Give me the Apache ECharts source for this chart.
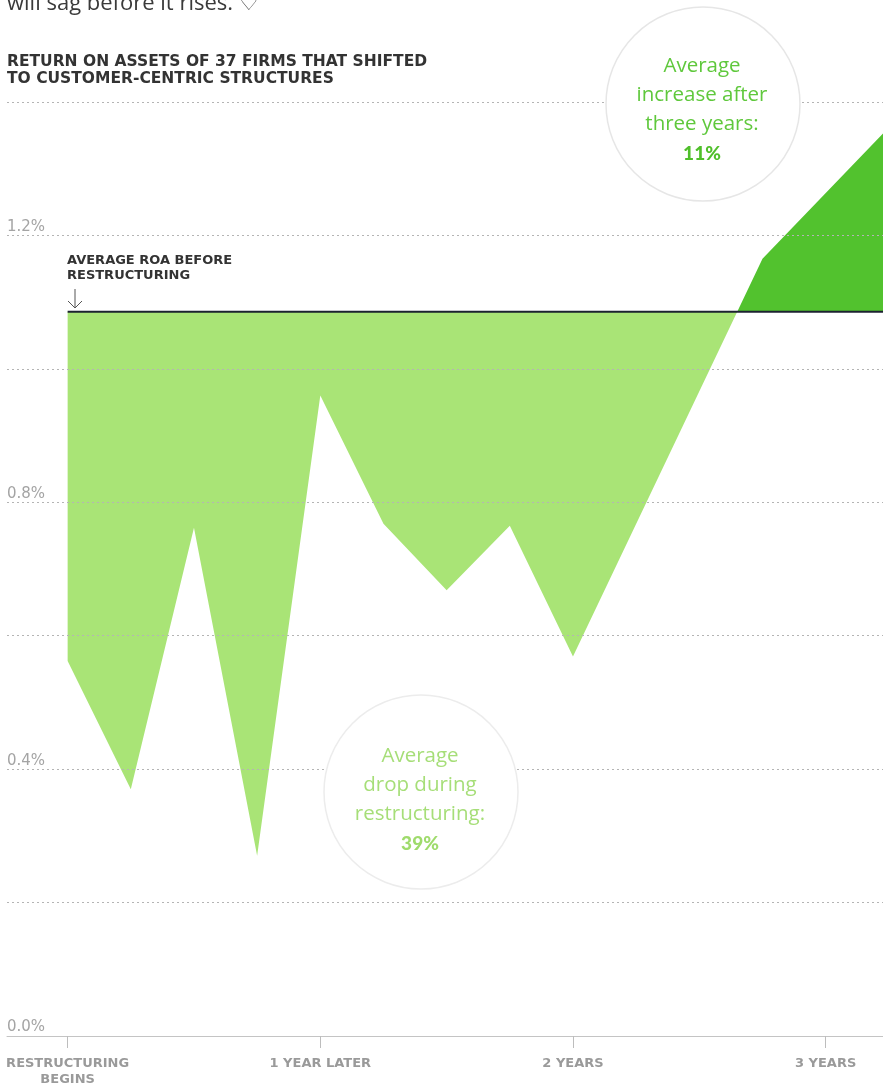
<!DOCTYPE html>
<html>
<head>
<meta charset="utf-8">
<script src="https://cdn.jsdelivr.net/npm/echarts@6/dist/echarts.min.js"></script>
<style>
html, body { margin: 0; padding: 0; background: #fff; }
#chart { width: 883px; height: 1085px; }
</style>
</head>
<body>
<div id="chart"></div>
<script>
// years since restructuring began, ROA in %
const years = [0, 0.25, 0.5, 0.75, 1, 1.25, 1.5, 1.75, 2, 2.75, 3.25];
const roa = [0.562, 0.37, 0.762, 0.27, 0.96, 0.768, 0.668, 0.765, 0.569, 1.165, 1.362];
const avgBefore = 1.0855;
const xTicks = [0, 1, 2, 3];
const xTickLabels = ['RESTRUCTURING\nBEGINS', '1 YEAR LATER', '2 YEARS', '3 YEARS'];
const yTickLabels = [0, 0.4, 0.8, 1.2];

const LIGHT = '#a9e476';
const DARK = '#52c22e';
const GRID = { left: 7, right: 0, top: 102, bottom: 49, outerBoundsMode: 'none', containLabel: false };

const chart = echarts.init(document.getElementById('chart'), null, { renderer: 'canvas' });

// fill above the pre-restructuring average dark, below it light
function splitFill() {
  const yTop = GRID.top;
  const yBottom = 1085 - GRID.bottom;
  const yAvg = chart.convertToPixel({ yAxisIndex: 0 }, avgBefore);
  const t = (yAvg - yTop) / (yBottom - yTop);
  return new echarts.graphic.LinearGradient(0, yTop, 0, yBottom, [
    { offset: 0, color: DARK },
    { offset: t, color: DARK },
    { offset: t, color: LIGHT },
    { offset: 1, color: LIGHT }
  ], true);
}

chart.setOption({
  animation: false,
  backgroundColor: '#fff',
  grid: GRID,
  xAxis: {
    type: 'value',
    min: -0.24,
    max: 3.227,
    splitLine: { show: false },
    axisLine: { show: true, lineStyle: { color: '#c4c4c4', width: 1 } },
    axisTick: {
      show: true, customValues: xTicks, length: 12,
      lineStyle: { color: '#bdbdbd', width: 1 }
    },
    axisLabel: {
      customValues: xTicks,
      formatter: v => xTickLabels[xTicks.indexOf(v)] || '',
      margin: 20,
      color: '#9a9a9a',
      fontFamily: 'DejaVu Sans',
      fontWeight: 'bold',
      fontSize: 13,
      lineHeight: 16,
      align: 'center'
    }
  },
  yAxis: {
    type: 'value',
    min: 0,
    max: 1.4,
    interval: 0.2,
    z: 3,
    axisLine: { show: false },
    axisTick: { show: false },
    splitLine: {
      show: true,
      showMinLine: false,
      lineStyle: { color: '#b4b4b4', width: 1, type: [2, 3] }
    },
    axisLabel: {
      inside: true,
      margin: 0,
      customValues: yTickLabels,
      formatter: v => v.toFixed(1) + '%',
      verticalAlign: 'bottom',
      padding: [0, 0, 1, 0],
      color: '#a4a4a4',
      fontFamily: 'DejaVu Sans',
      fontSize: 15
    }
  },
  series: [
    {
      type: 'line',
      data: years.map((x, i) => [x, roa[i]]),
      symbol: 'none',
      lineStyle: { width: 0 },
      areaStyle: { origin: avgBefore, opacity: 1, color: LIGHT },
      z: 2
    },
    {
      type: 'line',
      data: [[0, avgBefore], [3.227, avgBefore]],
      symbol: 'none',
      lineStyle: { color: '#1c2230', width: 2 },
      z: 4
    }
  ],
  graphic: [
    {
      type: 'text', left: 7, top: -7, z: 10,
      style: {
        text: 'will sag before it rises. \u2661',
        fill: '#3a3a3a', fontFamily: 'Open Sans', fontSize: 22
      }
    },
    {
      type: 'text', left: 7, top: 53, z: 10,
      style: {
        text: 'RETURN ON ASSETS OF 37 FIRMS THAT SHIFTED\nTO CUSTOMER-CENTRIC STRUCTURES',
        fill: '#333', fontFamily: 'DejaVu Sans', fontWeight: 'bold',
        fontSize: 15.5, lineHeight: 17
      }
    },
    {
      type: 'text', left: 67, top: 253, z: 10,
      style: {
        text: 'AVERAGE ROA BEFORE\nRESTRUCTURING',
        fill: '#333', fontFamily: 'DejaVu Sans', fontWeight: 'bold',
        fontSize: 13, lineHeight: 15
      }
    },
    {
      type: 'polyline', z: 10,
      shape: { points: [[75, 289], [75, 308]] },
      style: { stroke: '#555', lineWidth: 1, fill: null }
    },
    {
      type: 'polyline', z: 10,
      shape: { points: [[68, 301], [75, 308], [82, 301]] },
      style: { stroke: '#555', lineWidth: 1, fill: null }
    },
    {
      type: 'circle', z: 10,
      shape: { cx: 703, cy: 104, r: 97 },
      style: { fill: '#fff', stroke: '#e6e6e6', lineWidth: 1.5 }
    },
    {
      type: 'text', x: 702, y: 110, z: 11,
      style: {
        text: '{a|Average}\n{a|increase after}\n{a|three years:}\n{b|11%}',
        align: 'center', verticalAlign: 'middle',
        rich: {
          a: { fill: '#5fc83c', fontFamily: 'Open Sans', fontSize: 20.5, lineHeight: 29, align: 'center' },
          b: { fill: '#4fbf2a', fontFamily: 'Lato', fontWeight: 900, fontSize: 19, lineHeight: 29, align: 'center' }
        }
      }
    },
    {
      type: 'circle', z: 10,
      shape: { cx: 421, cy: 792, r: 97 },
      style: { fill: '#fff', stroke: '#ececec', lineWidth: 1.5 }
    },
    {
      type: 'text', x: 420, y: 800, z: 11,
      style: {
        text: '{a|Average}\n{a|drop during}\n{a|restructuring:}\n{b|39%}',
        align: 'center', verticalAlign: 'middle',
        rich: {
          a: { fill: '#a6de78', fontFamily: 'Open Sans', fontSize: 20.5, lineHeight: 29, align: 'center' },
          b: { fill: '#9fdb6c', fontFamily: 'Lato', fontWeight: 900, fontSize: 19, lineHeight: 29, align: 'center' }
        }
      }
    }
  ]
});

chart.setOption({ series: [{ areaStyle: { color: splitFill() } }] });
</script>
</body>
</html>
